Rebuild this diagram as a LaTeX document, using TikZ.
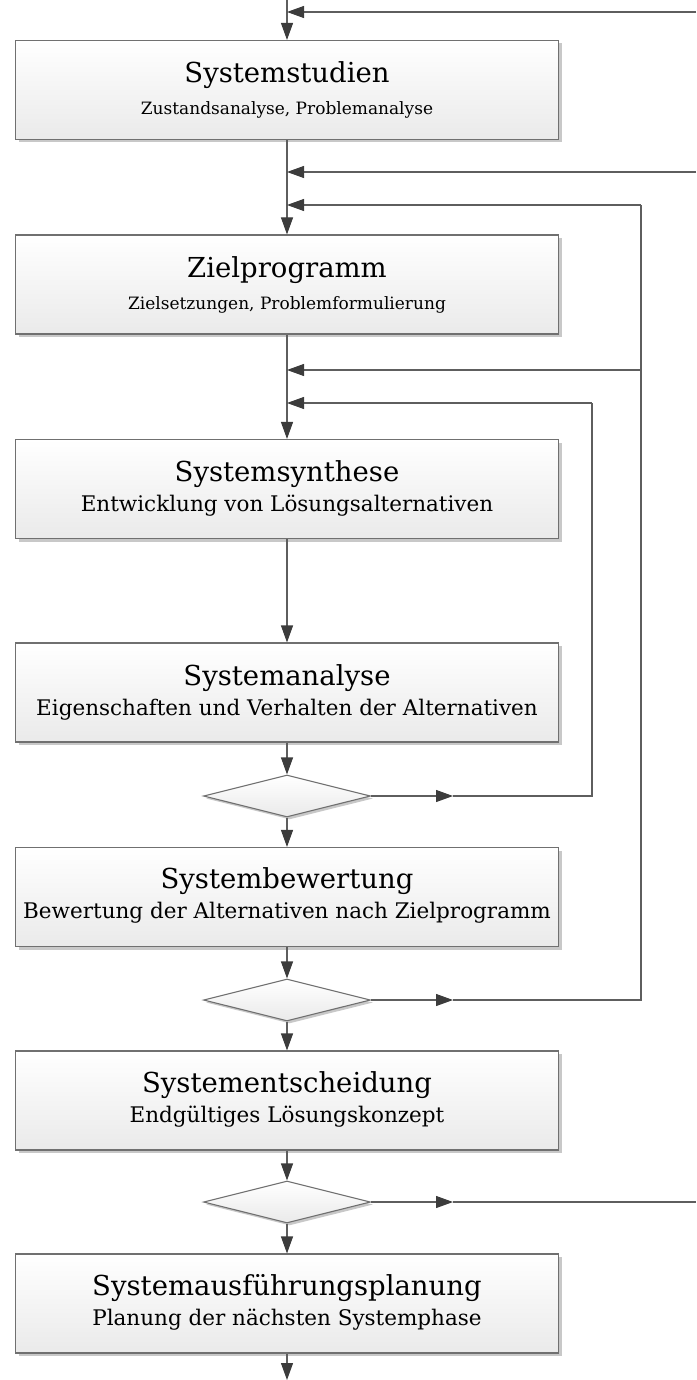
\documentclass[tikz,border=0pt]{standalone}
\usepackage{fontspec}
\setmainfont{DejaVu Serif}
\usetikzlibrary{arrows.meta,shapes.geometric,shadows}
\definecolor{linegray}{HTML}{5E5E5E}
\definecolor{tipgray}{HTML}{3C3C3C}
\definecolor{framegray}{HTML}{707070}
\definecolor{shadegray}{HTML}{EAEAEA}
\definecolor{shadowgray}{HTML}{C8C8C8}
\newcommand{\titlesize}{\fontsize{27.5}{32}\selectfont}
\newcommand{\subsize}{\fontsize{21.5}{25}\selectfont}
\newcommand{\smallsubsize}{\fontsize{17}{20}\selectfont}
\tikzset{
  phase/.style={rectangle, draw=framegray, line width=1.1pt, minimum width=543pt,
    minimum height=99pt, inner sep=0pt, top color=white, bottom color=shadegray,
    drop shadow={shadow xshift=3pt, shadow yshift=-3pt, fill=shadowgray, opacity=1}},
  decision/.style={diamond, draw=framegray, line width=1.1pt, minimum width=167pt,
    minimum height=42pt, inner sep=0pt, aspect=4, top color=white, bottom color=shadegray,
    drop shadow={shadow xshift=2.5pt, shadow yshift=-2.5pt, fill=shadowgray, opacity=1}},
  title/.style={inner sep=0pt, font=\titlesize, text=black},
  sub/.style={inner sep=0pt, font=\subsize, text=black},
  smallsub/.style={inner sep=0pt, font=\smallsubsize, text=black},
  wire/.style={draw=linegray, line width=1.1pt},
  flow/.style={wire, -{Triangle[length=17pt, width=12pt, color=tipgray]}},
}
\begin{document}
\begin{tikzpicture}[x=1pt, y=-1pt]
\useasboundingbox (0,0) rectangle (696,1380);

% phases
\node[phase] (b1) at (287,90)     {};
\node[phase] (b2) at (287,284.5)  {};
\node[phase] (b3) at (287,489)    {};
\node[phase] (b4) at (287,692.5)  {};
\node[phase] (b5) at (287,897)    {};
\node[phase] (b6) at (287,1100.5) {};
\node[phase] (b7) at (287,1303.5) {};

% decisions
\node[decision] (d1) at (287,796)  {};
\node[decision] (d2) at (287,1000) {};
\node[decision] (d3) at (287,1202) {};

% texts
\node[title]    (t1) at (287,75)   {Systemstudien};
\node[smallsub] (s1) at (287,110)  {Zustandsanalyse, Problemanalyse};
\node[title]    (t2) at (287,270)  {Zielprogramm};
\node[smallsub] (s2) at (287,305)  {Zielsetzungen, Problemformulierung};
\node[title]    (t3) at (287,474)  {Systemsynthese};
\node[sub]      (s3) at (287,506)  {Entwicklung von Lösungsalternativen};
\node[title]    (t4) at (287,678)  {Systemanalyse};
\node[sub]      (s4) at (287,710)  {Eigenschaften und Verhalten der Alternativen};
\node[title]    (t5) at (287,881)  {Systembewertung};
\node[sub]      (s5) at (287,913)  {Bewertung der Alternativen nach Zielprogramm};
\node[title]    (t6) at (287,1085) {Systementscheidung};
\node[sub]      (s6) at (287,1117) {Endgültiges Lösungskonzept};
\node[title]    (t7) at (287,1288) {Systemausführungsplanung};
\node[sub]      (s7) at (287,1320) {Planung der nächsten Systemphase};

% junction points
\coordinate (top)  at (287,0);
\coordinate (bot)  at (287,1380);
\coordinate (in0)  at (696,12);
\coordinate (j0)   at (287,12);
\coordinate (in1)  at (696,172);
\coordinate (j1)   at (287,172);
\coordinate (j2)   at (287,205);
\coordinate (c2)   at (641,205);
\coordinate (j3)   at (287,370);
\coordinate (c3)   at (641,370);
\coordinate (j4)   at (287,403);
\coordinate (c4)   at (592,403);
\coordinate (m1)   at (453,796);
\coordinate (k1)   at (592,796);
\coordinate (m2)   at (453,1000);
\coordinate (k2)   at (641,1000);
\coordinate (m3)   at (453,1202);
\coordinate (out3) at (696,1202);

% main flow
\draw[flow] (top) -- (b1.north);
\draw[flow] (b1.south) -- (b2.north);
\draw[flow] (b2.south) -- (b3.north);
\draw[flow] (b3.south) -- (b4.north);
\draw[flow] (b4.south) -- (d1.north);
\draw[flow] (d1.south) -- (b5.north);
\draw[flow] (b5.south) -- (d2.north);
\draw[flow] (d2.south) -- (b6.north);
\draw[flow] (b6.south) -- (d3.north);
\draw[flow] (d3.south) -- (b7.north);
\draw[flow] (b7.south) -- (bot);

% incoming returns
\draw[flow] (in0) -- (j0);
\draw[flow] (in1) -- (j1);

% loop from the first decision back to the synthesis
\draw[flow] (d1.east) -- (m1);
\draw[wire] (m1) -- (k1) -- (c4);
\draw[flow] (c4) -- (j4);

% loop from the second decision back to the goal programme
\draw[flow] (d2.east) -- (m2);
\draw[wire] (m2) -- (k2) -- (c2);
\draw[flow] (c2) -- (j2);
\draw[flow] (c3) -- (j3);

% exit of the third decision
\draw[flow] (d3.east) -- (m3);
\draw[wire] (m3) -- (out3);
\end{tikzpicture}
\end{document}
